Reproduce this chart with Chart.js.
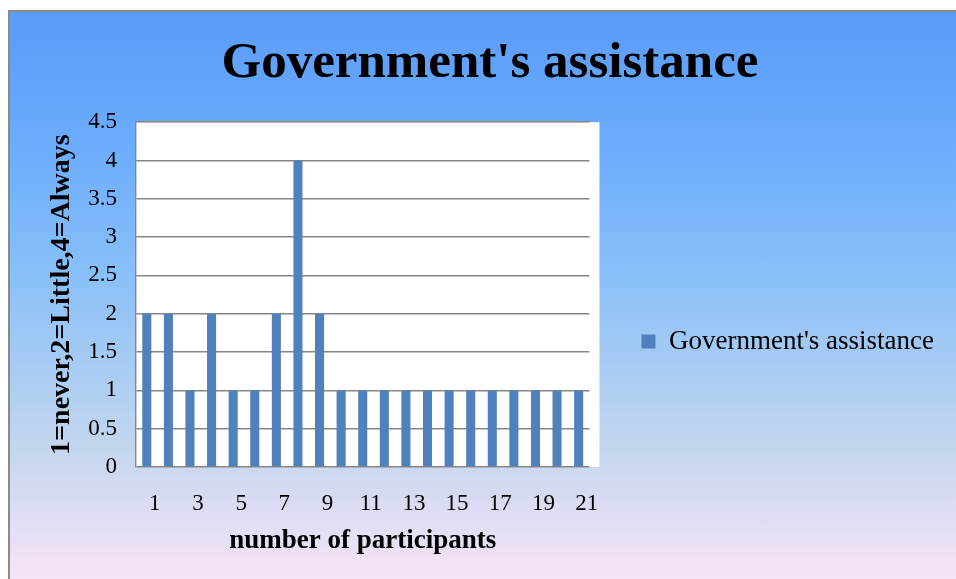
<!DOCTYPE html>
<html>
<head>
<meta charset="utf-8">
<script src="https://cdn.jsdelivr.net/npm/chart.js@4/dist/chart.umd.min.js"></script>
<style>
  html, body { margin: 0; padding: 0; background: #ffffff; overflow: hidden; }
  #frame {
    position: absolute; left: 8px; top: 10px; width: 960px; height: 580px;
    border-left: 2px solid #8a8a8a; border-top: 2px solid #8a8a8a;
    background: linear-gradient(to bottom, #5a9cf8 0%, #6aabfc 22%, #86bff9 44%, #c3d6ee 75%, #f6e3f8 97%, #f8e6f8 100%);
  }
  #wrap { position: absolute; left: 0; top: 0; width: 956px; height: 579px; }
</style>
</head>
<body>
<div id="frame"></div>
<div id="wrap"><canvas id="c" width="956" height="579"></canvas></div>
<script>
const chartTitle = "Government's assistance";
const seriesName = "Government's assistance";
const categories = ['1','2','3','4','5','6','7','8','9','10','11','12','13','14','15','16','17','18','19','20','21'];
const assistance = [2, 2, 1, 2, 1, 1, 2, 4, 2, 1, 1, 1, 1, 1, 1, 1, 1, 1, 1, 1, 1];
const yAxisTitle = '1=never,2=Little,4=Always';
const xAxisTitle = 'number of participants';
const yMin = 0, yMax = 4.5, yStep = 0.5;

const FONT = "'Liberation Serif', 'Times New Roman', serif";
const GRID = '#868686';

const plotBg = {
  id: 'plotBg',
  afterLayout(chart) {
    // legend sits a little below the plot's vertical centre, as in the reference
    const lg = chart.legend;
    if (lg) { lg.top += 52; lg.bottom += 52; }
  },
  beforeDraw(chart) {
    const a = chart.chartArea, ctx = chart.ctx;
    ctx.save();
    ctx.fillStyle = '#ffffff';
    ctx.fillRect(a.left, a.top, a.right - a.left + 10, a.bottom - a.top);
    ctx.restore();
  }
};

new Chart(document.getElementById('c'), {
  type: 'bar',
  data: {
    labels: categories,
    datasets: [{
      label: seriesName,
      data: assistance,
      backgroundColor: '#4f81bd',
      borderWidth: 0,
      barPercentage: 0.42,
      categoryPercentage: 1.0
    }]
  },
  options: {
    responsive: false,
    animation: false,
    devicePixelRatio: 1,
    layout: { padding: { left: 36, right: 12, top: 0, bottom: 0 } },
    plugins: {
      title: {
        display: true,
        text: chartTitle,
        color: '#000000',
        font: { family: FONT, size: 51, weight: 'bold' },
        padding: { top: 33, bottom: 28 }
      },
      legend: {
        display: true,
        position: 'right',
        maxWidth: 420,
        labels: {
          color: '#000000',
          font: { family: FONT, size: 27 },
          boxWidth: 14,
          boxHeight: 14,
          padding: 52
        }
      },
      tooltip: { enabled: false }
    },
    scales: {
      x: {
        grid: { display: false },
        border: { display: false },
        ticks: {
          color: '#000000',
          font: { family: FONT, size: 23 },
          autoSkip: false,
          maxRotation: 0,
          padding: 15,
          labelOffset: 8,
          callback: function(value, index) { return index % 2 === 0 ? categories[index] : ''; }
        },
        title: {
          display: true,
          text: xAxisTitle,
          color: '#000000',
          font: { family: FONT, size: 27, weight: 'bold' },
          padding: { top: 0, bottom: 22 }
        },
        afterFit(scale) { scale.height = 112; }
      },
      y: {
        min: yMin,
        max: yMax,
        grid: { color: GRID, lineWidth: 1.4, drawTicks: false },
        border: { display: true, color: GRID, width: 1.4 },
        ticks: {
          stepSize: yStep,
          color: '#000000',
          font: { family: FONT, size: 23 },
          padding: 19,
          callback: function(value) { return String(value); }
        },
        title: {
          display: true,
          text: yAxisTitle,
          color: '#000000',
          font: { family: FONT, size: 28, weight: 'bold' },
          padding: { top: 9, bottom: 0 }
        },
        afterFit(scale) { scale.width = 100; }
      }
    }
  },
  plugins: [plotBg]
});
</script>
</body>
</html>
